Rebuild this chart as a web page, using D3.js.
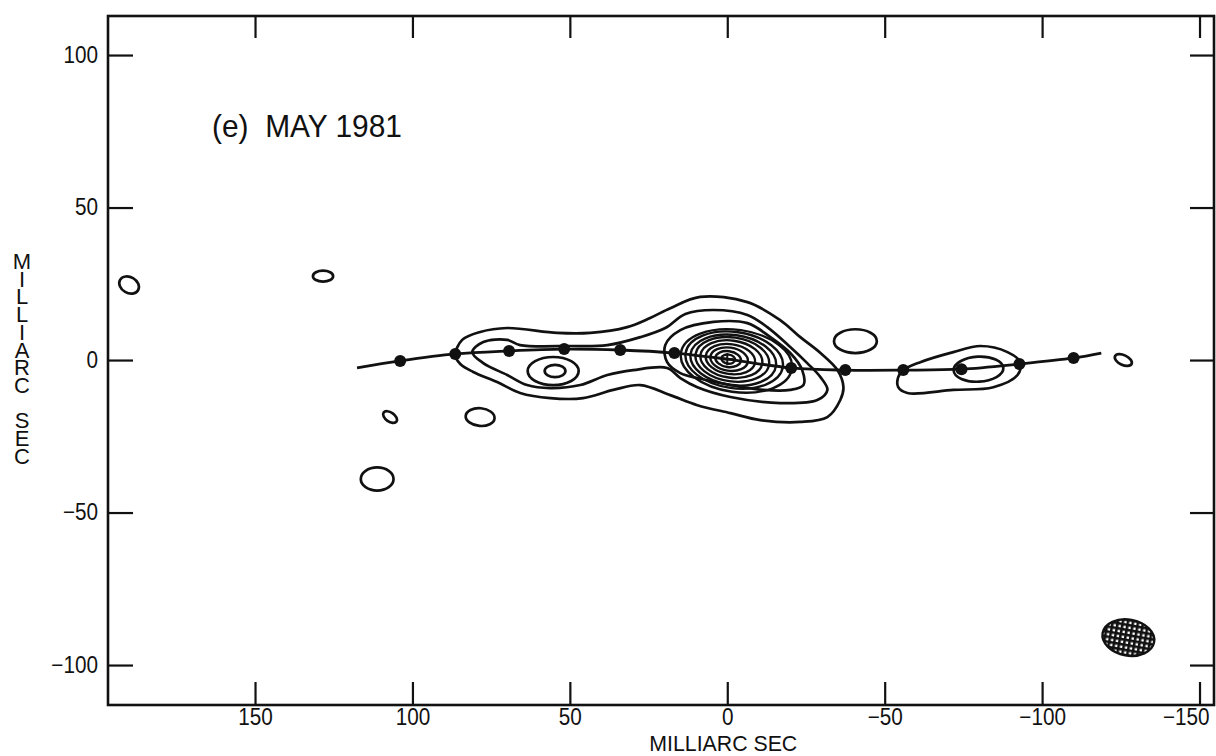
<!DOCTYPE html>
<html><head><meta charset="utf-8">
<script src="https://cdn.jsdelivr.net/npm/d3@7"></script>
<style>
html,body{margin:0;padding:0;background:#fff;}
svg{display:block;}
text{font-family:"Liberation Sans", Arial, sans-serif; fill:#111;}
</style></head><body>
<svg id="chart" width="1216" height="756"></svg>
<script>
// ---- axes / labels ----
const xTicks = [150, 100, 50, 0, -50, -100, -150];
const yTicks = [100, 50, 0, -50, -100];
const xExtent = [196.7, -154.6];
const yExtent = [-113.1, 112.8];
const titleText = "(e)  MAY 1981";
const axisTitle = "MILLIARC SEC";

// ---- ridge line & model component positions (mas) ----
const ridgeLine = [[117.6,-2.6],[103.9,-0.3],[86.4,2.0],[69.3,3.0],[51.8,3.6],[34.0,3.3],[16.8,2.3],[0,0.3],
  [-20.3,-2.6],[-37.5,-3.3],[-55.9,-3.3],[-74.4,-3.0],[-92.8,-1.3],[-110.0,0.7],[-118.8,2.3]];
const ridgeDots = [[103.9,-0.3],[86.4,2.0],[69.3,3.0],[51.8,3.6],[34.0,3.3],[16.8,2.3],
  [-20.3,-2.6],[-37.5,-3.3],[-55.9,-3.3],[-74.4,-3.0],[-92.8,-1.3],[-110.0,0.7]];
const peak = [0, 0.3];

const contourLowest = [[86.4,1.6],[84.2,6.6],[78.5,9.2],[69.9,10.5],[54.0,8.9],[43.5,8.9],[31.8,10.8],[24.5,13.8],
  [18.1,17.0],[8.6,20.7],[-6.4,19.0],[-16.8,13.1],[-23.2,7.5],[-29.6,2.3],[-35.0,-3.3],[-36.9,-8.9],[-35.9,-13.1],
  [-31.8,-18.7],[-23.2,-20.3],[-10.5,-19.7],[-1.0,-17.4],[9.5,-14.8],[18.1,-11.5],[27.6,-8.2],[36.2,-9.8],
  [45.8,-12.5],[56.2,-12.5],[65.8,-10.8],[73.1,-7.2],[80.7,-3.9],[84.8,-1.3]];
const contourSecond = [[81.0,2.6],[77.5,5.9],[69.9,6.6],[65.8,4.9],[49.9,4.6],[38.1,4.9],[27.6,7.5],[19.7,10.5],
  [13.3,15.1],[4.4,16.4],[-6.4,14.8],[-12.7,10.8],[-20.0,4.3],[-25.4,-1.0],[-29.6,-5.6],[-31.8,-9.8],[-28.6,-13.1],
  [-16.8,-14.1],[-1.0,-12.1],[9.5,-8.9],[14.9,-5.9],[19.1,-2.6],[29.9,-3.3],[38.1,-4.9],[46.7,-8.2],[56.2,-9.2],
  [63.6,-8.2],[69.9,-4.9],[77.5,-1.0]];
const contourCoreThird = [[19.7,4.9],[14.9,9.8],[4.4,12.5],[-6.4,12.1],[-13.7,7.5],[-20.0,2.3],[-23.8,-3.3],
  [-24.2,-8.2],[-20.0,-9.8],[-11.4,-9.8],[-1.0,-8.2],[9.5,-5.9],[14.9,-4.3],[19.1,-0.7]];
const contourWestKnot = [[-55.9,-3.3],[-61.3,-0.7],[-71.8,2.6],[-80.4,4.6],[-89.0,2.6],[-93.1,-0.7],[-92.2,-4.9],
  [-84.5,-8.9],[-71.8,-9.8],[-57.2,-10.8],[-54.3,-8.9],[-54.3,-5.6]];

// ---- nested core rings: [cx, cy, semi-x, semi-y, tilt deg] ----
const coreRings = [[-0.3,0.3,2.2,1.5,8],[-0.3,0.3,4.1,2.6,8],[-0.6,0.3,6.0,3.8,8],[-1.0,0.3,7.9,4.9,8],
  [-1.3,0.3,9.9,6.1,8],[-1.6,0.2,11.8,7.2,8],[-1.9,0.0,13.7,8.2,8],[-2.2,0.0,15.6,9.2,8],[-2.9,-0.3,17.8,10.2,8]];
// ---- small closed contours: [cx, cy, semi-x, semi-y, tilt deg] ----
const smallContours = [[190.0,24.6,3.3,2.6,30],[128.4,27.5,3.2,1.8,0],[107.1,-18.7,2.5,1.5,35],
  [78.5,-18.7,4.6,2.9,5],[111.2,-39.0,5.2,3.8,0],[-40.7,6.2,6.8,3.9,0],[-125.8,0.0,2.9,1.6,25],
  [55.3,-3.6,8.1,4.6,0],[54.7,-3.6,3.3,2.0,0],[-79.8,-3.0,7.9,4.1,-3]];
// ---- restoring beam ----
const beam = [-127.4, -91.0, 8.3, 5.9, 10];

// ================= drawing =================
const svg = d3.select("#chart");
const L = 108, R = 1214, T = 16, B = 705;
const x = d3.scaleLinear().domain(xExtent).range([L, R]);
const y = d3.scaleLinear().domain(yExtent).range([B, T]);
const fmt = d => d < 0 ? "\u2212" + Math.abs(d) : String(d);
const FONT = '"Liberation Sans", Arial, sans-serif';

// squeeze a text horizontally (the original lettering is slightly condensed)
function condense(sel, k) {
  sel.each(function () {
    const w = this.getComputedTextLength();
    if (w > 0) d3.select(this).attr("textLength", w * k).attr("lengthAdjust", "spacingAndGlyphs");
  });
}

const defs = svg.append("defs");
const pat = defs.append("pattern").attr("id", "hatch").attr("patternUnits", "userSpaceOnUse")
  .attr("width", 5).attr("height", 5);
pat.append("rect").attr("width", 5).attr("height", 5).attr("fill", "#111");
pat.append("rect").attr("x", 1.6).attr("y", 1.6).attr("width", 2.4).attr("height", 2.4).attr("fill", "#fff");

// axes (ticks inward)
const gB = svg.append("g").attr("transform", `translate(0,${B})`)
  .call(d3.axisBottom(x).tickValues(xTicks).tickSizeInner(-23).tickSizeOuter(0).tickPadding(4).tickFormat(fmt));
const gT = svg.append("g").attr("transform", `translate(0,${T})`)
  .call(d3.axisTop(x).tickValues(xTicks).tickSizeInner(-22).tickSizeOuter(0).tickFormat(""));
const gL = svg.append("g").attr("transform", `translate(${L},0)`)
  .call(d3.axisLeft(y).tickValues(yTicks).tickSizeInner(-25).tickSizeOuter(0).tickPadding(10).tickFormat(fmt));
const gR = svg.append("g").attr("transform", `translate(${R},0)`)
  .call(d3.axisRight(y).tickValues(yTicks).tickSizeInner(-24).tickSizeOuter(0).tickFormat(""));
[gB, gT, gL, gR].forEach(g => {
  g.select(".domain").remove();
  g.selectAll(".tick line").attr("stroke", "#111").attr("stroke-width", 2.2);
  g.selectAll(".tick text").attr("fill", "#111").style("font-size", "23px").style("font-family", FONT);
});
condense(gB.selectAll(".tick text"), 0.9);
condense(gL.selectAll(".tick text"), 0.9);
// keep the last bottom label inside the frame, as in the original
gB.selectAll(".tick").filter(d => d === xTicks[xTicks.length - 1]).select("text")
  .attr("text-anchor", "end").attr("x", R - 5 - x(xTicks[xTicks.length - 1]));

svg.append("rect").attr("x", L).attr("y", T).attr("width", R - L).attr("height", B - T)
  .attr("fill", "none").attr("stroke", "#111").attr("stroke-width", 2.6);

const plot = svg.append("g");
const closed = d3.line().x(d => x(d[0])).y(d => y(d[1])).curve(d3.curveCatmullRomClosed.alpha(0.5));
const open = d3.line().x(d => x(d[0])).y(d => y(d[1])).curve(d3.curveCatmullRom.alpha(0.5));

[contourLowest, contourSecond, contourCoreThird, contourWestKnot].forEach(c => {
  plot.append("path").attr("d", closed(c)).attr("fill", "none").attr("stroke", "#111")
    .attr("stroke-width", 2.7).attr("stroke-linejoin", "round");
});

function ellipse(sel, e, fill, sw) {
  const cx = x(e[0]), cy = y(e[1]);
  return sel.append("ellipse").attr("cx", cx).attr("cy", cy)
    .attr("rx", Math.abs(x(e[0] + e[2]) - cx)).attr("ry", Math.abs(y(e[1] + e[3]) - cy))
    .attr("transform", `rotate(${e[4]},${cx},${cy})`)
    .attr("fill", fill).attr("stroke", "#111").attr("stroke-width", sw);
}
coreRings.forEach(e => ellipse(plot, e, "none", 2.4));
smallContours.forEach(e => ellipse(plot, e, "none", 2.7));
ellipse(plot, beam, "url(#hatch)", 2.4);

// peak cross
const pc = [x(peak[0]), y(peak[1])];
plot.append("path").attr("d", `M${pc[0]-6},${pc[1]}H${pc[0]+6}M${pc[0]},${pc[1]-6}V${pc[1]+6}`)
  .attr("stroke", "#111").attr("stroke-width", 2);

// ridge line + dots
plot.append("path").attr("d", open(ridgeLine)).attr("fill", "none").attr("stroke", "#111").attr("stroke-width", 2.8);
plot.selectAll("circle.dot").data(ridgeDots).join("circle").attr("class", "dot")
  .attr("cx", d => x(d[0])).attr("cy", d => y(d[1])).attr("r", 6).attr("fill", "#111");

// texts
const title = svg.append("text").attr("x", 212).attr("y", 137).style("font-size", "32px")
  .attr("xml:space", "preserve").text(titleText);
title.attr("textLength", 190).attr("lengthAdjust", "spacingAndGlyphs");
const xt = svg.append("text").attr("x", x(0) - 4).attr("y", 751).attr("text-anchor", "middle")
  .style("font-size", "22px").text(axisTitle);
xt.attr("textLength", 148).attr("lengthAdjust", "spacingAndGlyphs");
svg.append("text").attr("x", 22).attr("y", 249)
  .style("writing-mode", "vertical-rl").style("text-orientation", "upright")
  .style("font-size", "22px").style("letter-spacing", "-7.3px").text(axisTitle);
</script>
</body></html>
